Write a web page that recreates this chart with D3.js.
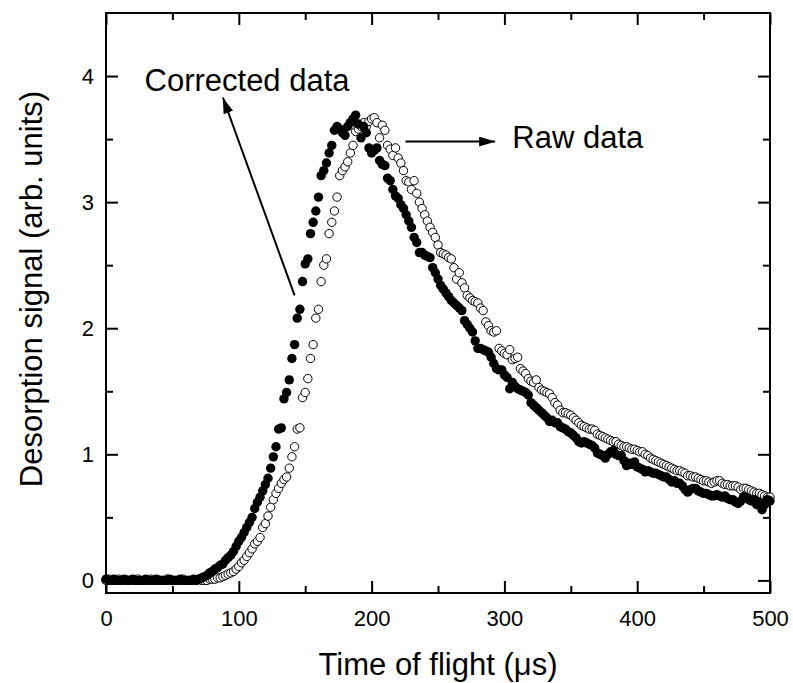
<!DOCTYPE html>
<html>
<head>
<meta charset="utf-8">
<script src="https://cdn.jsdelivr.net/npm/d3@7"></script>
<style>
  body { margin: 0; background: #fff; }
  svg { display: block; font-family: "Liberation Sans", Arial, sans-serif; }
</style>
</head>
<body>
<svg id="chart" width="793" height="683"></svg>
<script>
'use strict';

// sampling grid of the time of flight (us), one point every 2 us
const timeOfFlight = d3.range(0, 501, 2);

// corrected data (filled circles), one row per 20 us
const correctedData = [
  0.01, 0, 0, 0.01, 0, 0, 0, 0.01, 0, 0,
  0.01, 0, 0, 0, 0, 0.01, 0, 0, 0, 0.01,
  0, 0, 0, 0, 0.01, 0, 0, 0, 0.01, 0,
  0, 0, 0, 0.01, 0, 0.01, 0.02, 0.03, 0.04, 0.06,
  0.07, 0.09, 0.1, 0.12, 0.13, 0.16, 0.18, 0.2, 0.23, 0.27,
  0.31, 0.34, 0.38, 0.42, 0.46, 0.5, 0.57, 0.62, 0.66, 0.71,
  0.76, 0.81, 0.89, 0.98, 1.06, 1.2, 1.21, 1.44, 1.49, 1.59,
  1.76, 1.87, 2.08, 2.15, 2.37, 2.51, 2.55, 2.75, 2.84, 2.93,
  3.04, 3.21, 3.25, 3.31, 3.39, 3.45, 3.57, 3.6, 3.58, 3.55,
  3.53, 3.6, 3.63, 3.66, 3.69, 3.62, 3.51, 3.6, 3.55, 3.43,
  3.39, 3.41, 3.43, 3.33, 3.3, 3.29, 3.19, 3.17, 3.1, 3.05,
  3.03, 2.98, 2.95, 2.9, 2.85, 2.8, 2.72, 2.68, 2.6, 2.6,
  2.58, 2.57, 2.56, 2.48, 2.44, 2.39, 2.34, 2.31, 2.28, 2.25,
  2.22, 2.2, 2.18, 2.16, 2.14, 2.06, 2.03, 2.0, 1.97, 1.9,
  1.84, 1.84, 1.83, 1.82, 1.81, 1.77, 1.72, 1.68, 1.67, 1.67,
  1.63, 1.61, 1.52, 1.57, 1.54, 1.52, 1.51, 1.5, 1.49, 1.47,
  1.41, 1.39, 1.37, 1.35, 1.33, 1.31, 1.29, 1.26, 1.27, 1.25,
  1.25, 1.22, 1.21, 1.2, 1.18, 1.17, 1.15, 1.13, 1.1, 1.09,
  1.1, 1.09, 1.08, 1.07, 1.05, 1.01, 1.0, 0.99, 0.97, 1.0,
  1.02, 1.03, 1.0, 0.99, 0.99, 0.95, 0.91, 0.93, 0.92, 0.94,
  0.9, 0.89, 0.88, 0.86, 0.87, 0.86, 0.85, 0.85, 0.84, 0.83,
  0.82, 0.82, 0.8, 0.78, 0.79, 0.77, 0.77, 0.75, 0.72, 0.7,
  0.72, 0.73, 0.73, 0.71, 0.7, 0.69, 0.69, 0.68, 0.67, 0.67,
  0.68, 0.67, 0.66, 0.67, 0.65, 0.64, 0.64, 0.62, 0.61, 0.63,
  0.66, 0.66, 0.64, 0.63, 0.64, 0.6, 0.62, 0.56, 0.6, 0.64,
  0.63
];

// raw data (open circles), one row per 20 us
const rawData = [
  0, 0.01, 0, 0, 0, 0.01, 0, 0, 0, 0,
  0, 0, 0.01, 0, 0, 0, 0, 0.01, 0, 0,
  0, 0, 0, 0.01, 0, 0, 0, 0, 0, 0.01,
  0, 0, 0, 0, 0, 0.01, 0, 0, 0, 0.01,
  0.01, 0.01, 0.02, 0.02, 0.03, 0.04, 0.05, 0.06, 0.07, 0.09,
  0.11, 0.14, 0.16, 0.19, 0.22, 0.25, 0.29, 0.31, 0.34, 0.42,
  0.45, 0.51, 0.58, 0.64, 0.69, 0.73, 0.77, 0.8, 0.82, 0.89,
  0.98, 1.06, 1.2, 1.21, 1.45, 1.49, 1.6, 1.76, 1.87, 2.08,
  2.15, 2.37, 2.5, 2.55, 2.75, 2.84, 2.93, 3.04, 3.21, 3.25,
  3.28, 3.32, 3.39, 3.45, 3.56, 3.58, 3.6, 3.63, 3.6, 3.64,
  3.66, 3.67, 3.63, 3.51, 3.61, 3.57, 3.45, 3.42, 3.37, 3.43,
  3.35, 3.31, 3.25, 3.17, 3.16, 3.1, 3.17, 3.07, 3.0, 2.95,
  2.9, 2.85, 2.8, 2.76, 2.72, 2.66, 2.6, 2.59, 2.58, 2.56,
  2.55, 2.48, 2.39, 2.44, 2.36, 2.32, 2.26, 2.24, 2.22, 2.21,
  2.2, 2.16, 2.14, 2.05, 2.02, 1.98, 1.97, 1.98, 1.84, 1.82,
  1.8, 1.79, 1.83, 1.75, 1.76, 1.77, 1.68, 1.66, 1.64, 1.6,
  1.58, 1.57, 1.59, 1.53, 1.51, 1.5, 1.49, 1.48, 1.45, 1.41,
  1.39, 1.35, 1.33, 1.33, 1.32, 1.31, 1.29, 1.27, 1.25, 1.23,
  1.22, 1.21, 1.2, 1.2, 1.19, 1.16, 1.15, 1.14, 1.13, 1.12,
  1.11, 1.1, 1.1, 1.08, 1.07, 1.06, 1.06, 1.05, 1.04, 1.04,
  1.03, 1.02, 1.02, 1.0, 0.99, 0.97, 0.96, 0.95, 0.94, 0.93,
  0.92, 0.91, 0.9, 0.89, 0.88, 0.87, 0.87, 0.86, 0.85, 0.83,
  0.83, 0.82, 0.82, 0.81, 0.8, 0.79, 0.79, 0.78, 0.77, 0.78,
  0.79, 0.79, 0.77, 0.76, 0.76, 0.75, 0.75, 0.75, 0.74, 0.72,
  0.73, 0.73, 0.72, 0.71, 0.7, 0.69, 0.69, 0.68, 0.67, 0.66,
  0.66
];

const xMajorTicks = [0, 100, 200, 300, 400, 500];
const xMinorTicks = [50, 150, 250, 350, 450];
const yMajorTicks = [0, 1, 2, 3, 4];
const yMinorTicks = [0.5, 1.5, 2.5, 3.5];

// annotation labels with their arrows (tail -> head, in data units)
const annotations = [
  {label: 'Corrected data', tx: 29, ty: 3.88, from: [142, 2.26], to: [88, 3.83]},
  {label: 'Raw data', tx: 306, ty: 3.43, from: [225.5, 3.48], to: [293, 3.48]}
];

const margin = {top: 13, right: 23, bottom: 90, left: 106};
const width = 793;
const height = 683;
const svg = d3.select('#chart');

const x = d3.scaleLinear().domain([0, 500]).range([margin.left, width - margin.right]);
const y = d3.scaleLinear().domain([-0.1, 4.5]).range([height - margin.bottom, margin.top]);

svg.append('defs').append('marker')
  .attr('id', 'head')
  .attr('viewBox', '0 0 16 10')
  .attr('refX', 16)
  .attr('refY', 5)
  .attr('markerWidth', 16)
  .attr('markerHeight', 10)
  .attr('markerUnits', 'userSpaceOnUse')
  .attr('orient', 'auto')
  .append('path')
  .attr('d', 'M0,0L16,5L0,10Z')
  .attr('fill', '#000');

/**
 * Draws one axis with inward ticks
 * @param {Function} axis d3 axis generator
 * @param {String} tr transform of the group
 * @param {Number} size length of the tick (negative = inward)
 * @param {Array} values tick values
 * @param {Boolean} labels draw labels or not
 * @param {Number} pad padding of the labels
 */
function drawAxis(axis, tr, size, values, labels, pad) {
  const g = svg.append('g')
    .attr('transform', tr)
    .call(axis
      .tickValues(values)
      .tickSizeInner(size)
      .tickSizeOuter(0)
      .tickPadding(pad)
      .tickFormat(labels ? d3.format('d') : ''));
  g.select('.domain').remove();
  g.selectAll('line').attr('stroke', '#000').attr('stroke-width', 2);
  g.selectAll('text')
    .attr('fill', '#000')
    .style('font-size', '22px');
  return g;
}

const bottomY = y.range()[0];
const topY = y.range()[1];
const leftX = x.range()[0];
const rightX = x.range()[1];

drawAxis(d3.axisBottom(x), 'translate(0,' + bottomY + ')', -12, xMajorTicks, true, 17);
drawAxis(d3.axisBottom(x), 'translate(0,' + bottomY + ')', -7, xMinorTicks, false, 0);
drawAxis(d3.axisTop(x), 'translate(0,' + topY + ')', -12, xMajorTicks, false, 0);
drawAxis(d3.axisTop(x), 'translate(0,' + topY + ')', -7, xMinorTicks, false, 0);
drawAxis(d3.axisLeft(y), 'translate(' + leftX + ',0)', -12, yMajorTicks, true, 12);
drawAxis(d3.axisLeft(y), 'translate(' + leftX + ',0)', -7, yMinorTicks, false, 0);
drawAxis(d3.axisRight(y), 'translate(' + rightX + ',0)', -12, yMajorTicks, false, 0);
drawAxis(d3.axisRight(y), 'translate(' + rightX + ',0)', -7, yMinorTicks, false, 0);

// frame
svg.append('rect')
  .attr('x', leftX)
  .attr('y', topY)
  .attr('width', rightX - leftX)
  .attr('height', bottomY - topY)
  .attr('fill', 'none')
  .attr('stroke', '#000')
  .attr('stroke-width', 2);

// raw data - open circles
svg.append('g')
  .selectAll('circle')
  .data(rawData)
  .join('circle')
  .attr('cx', (d, i) => x(timeOfFlight[i]))
  .attr('cy', d => y(d))
  .attr('r', 4.2)
  .attr('fill', '#fff')
  .attr('stroke', '#000')
  .attr('stroke-width', 1);

// corrected data - filled circles
svg.append('g')
  .selectAll('circle')
  .data(correctedData)
  .join('circle')
  .attr('cx', (d, i) => x(timeOfFlight[i]))
  .attr('cy', d => y(d))
  .attr('r', 4.7)
  .attr('fill', '#000');

// annotations
annotations.forEach(function(a) {
  svg.append('line')
    .attr('x1', x(a.from[0]))
    .attr('y1', y(a.from[1]))
    .attr('x2', x(a.to[0]))
    .attr('y2', y(a.to[1]))
    .attr('stroke', '#000')
    .attr('stroke-width', 2)
    .attr('marker-end', 'url(#head)');
  svg.append('text')
    .attr('x', x(a.tx))
    .attr('y', y(a.ty))
    .style('font-size', '31px')
    .text(a.label);
});

// axis titles
svg.append('text')
  .attr('x', (leftX + rightX) / 2)
  .attr('y', 675)
  .attr('text-anchor', 'middle')
  .style('font-size', '31px')
  .text('Time of flight (\u03bcs)');

svg.append('text')
  .attr('transform', 'translate(42,' + ((topY + bottomY) / 2 - 14) + ') rotate(-90)')
  .attr('text-anchor', 'middle')
  .style('font-size', '31px')
  .text('Desorption signal (arb. units)');
</script>
</body>
</html>
